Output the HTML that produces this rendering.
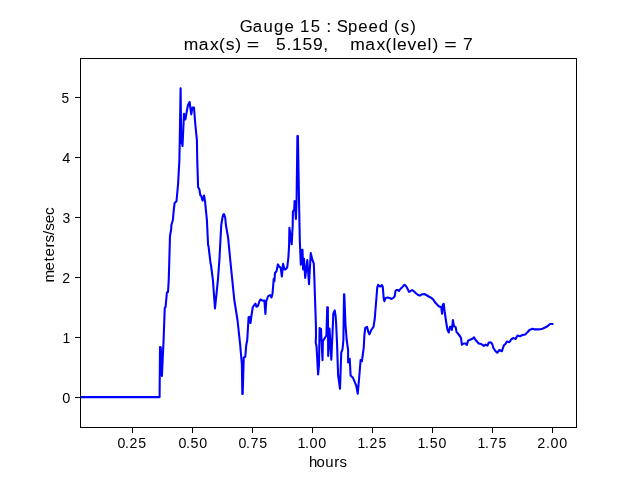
<!DOCTYPE html>
<html><head><meta charset="utf-8"><title>Gauge 15</title>
<style>
html,body{margin:0;padding:0;background:#fff;}
body{width:640px;height:480px;overflow:hidden;}
svg{display:block;font-family:"Liberation Sans",sans-serif;}
text{fill:#000;}
</style></head><body>
<svg width="640" height="480" viewBox="0 0 640 480">
<rect width="640" height="480" fill="#fff"/>
<polyline fill="none" stroke="#0000ff" stroke-width="2.08" stroke-linejoin="round" stroke-linecap="butt" points="80,397.1 159.6,397.1 160.0,347 160.8,347.5 161.9,376 163.6,340 164.75,308 165.6,307 166.9,292.5 168,292 168.75,280 170,236 171.2,229 171.4,225 172.9,220 173.75,210 174.6,203 176.5,201.25 178.1,183.75 179.4,160 179.75,140 180.6,88.2 181.2,143 181.7,141 182.5,146 184,113.75 185.4,119.4 186.9,110.6 188,105 189.6,102 191.25,114.4 192.5,107.5 194,107.5 195.25,123.75 196.9,140 197.25,160 198.1,187 199.4,189.4 200.25,195 201.25,196 202.5,200.6 204.1,195.6 205,201 206.9,220 208.1,245 208.5,246 210.6,263.75 211,265 212.9,280 215,308.5 217.9,280 219.4,260 221.25,225 222.5,217.5 223.3,214.4 224.2,214.4 225.2,217.5 225.9,225 228.1,237.5 230.25,260 234.3,300 237.5,320 240.2,345 241.9,365 242.3,393.9 242.7,393.9 243.75,357.5 245.25,357 246.25,345 247.25,340 248.6,317.3 249.5,316.9 250.5,323 251.4,316 252.8,307 255.4,303.5 256.5,306.8 258,305.8 259.5,301 260.6,299.4 262.5,300.6 264.4,300.6 265.4,314 266.25,301.25 268.1,296.25 270,295 271.5,297.5 272.5,293.75 273.75,278.75 274.4,281.25 275,273 276.5,271.25 277.9,264.4 279.4,266.9 280.6,267.5 281.9,276.5 283.1,263.9 284.5,269.5 285.6,269.4 287.2,267.5 288.4,257.5 289.1,245 289.4,227.8 291.7,244.3 292.7,225 292.9,211.5 294.2,209.5 294.6,201 295.9,219.0 296.6,200 297.4,136 297.9,136 299.3,215 299.8,240 300.8,264.8 301.6,250 302.5,249.8 303.1,269.5 304,258.75 305.2,278 307.3,260 309.0,284.2 310.75,253 312.4,260 313.8,263.4 314.4,280 315.9,325 316.0,336.5 315.7,342.5 316.5,346 318.1,374.4 319,365 319.6,328 321,329 322.5,360.3 322.9,341 324.5,338.5 326.4,335.5 327.25,307.3 327.85,307.3 328.2,356 329.5,328.5 331.3,359.8 333.0,322 333.3,313.6 334.7,310.4 335.6,316 336.1,323 337.0,342.5 338.1,375 340,388.75 341.25,352.5 342.5,349.4 343.4,340 344.0,294.3 344.3,294.3 345.5,325 346.7,340 348.1,350 348.1,362.5 349.75,358.75 350.6,375.6 353.1,378.1 356.25,385.6 357.75,393.75 359.4,375 360.6,360 361.9,361.25 363.75,347.5 364.4,335 365.25,328 367.1,326.9 368.1,331.25 369.4,334.4 371.25,330 373.5,326.9 374.75,318.75 376.25,300 377.25,287.5 378.1,284.75 379.4,286.25 380.6,286.5 381.9,285 382.75,286.9 383.75,298.75 384.4,301.25 385.6,298 387.75,297.5 389.75,298 391.6,299 393.1,298 394.6,296.5 395.6,290.6 396.9,290 398.1,290 399,290.9 400.6,288.75 402.5,286.9 404.4,284.75 405.6,285.6 406.9,287.5 409,291.9 410.6,291 412.1,290 413.75,291.25 416.25,293.5 418.1,295 419.75,295.6 421.9,294.4 424.4,294 426.25,295 428.75,296.5 431.25,297.9 433.1,299.4 435.6,303.1 438.75,306.25 441.25,307.25 442.1,313.75 442.75,304.75 443.75,303.75 444.75,312.5 446.25,322.5 447.5,330 448.75,332.5 450,326.9 451.2,326.9 451.9,330 452.9,320 454,326.25 455.6,326.9 456.5,331.9 458.1,333.75 460,336.25 461,338.1 461.9,344.75 463.75,343.5 465.6,343.5 466.9,345 468.1,340.6 470,339.75 472.5,338.75 474,337.25 475.6,340 478.75,343.5 481.25,344 483.75,345.9 485.6,344.6 487.5,345.6 488.75,342.5 490.6,342.25 492.1,343.75 493.5,348.1 495.6,351.25 497.25,352.75 499.4,350 501.9,351.25 503.75,345.6 505.6,343.75 506.9,341.5 509.4,342.25 511.25,339.4 513.1,338.1 515.6,339 517.5,335.6 520,336.25 522.5,335 525.25,334.4 527.5,332.25 529.4,330 532.5,328.75 535,329.4 538.75,329.4 542.5,328.75 545,327.5 547.5,326.25 550,324 553.4,324"/>
<g stroke="#000" stroke-width="1" shape-rendering="crispEdges">
<line x1="132.5" y1="428" x2="132.5" y2="432.5"/><line x1="192.5" y1="428" x2="192.5" y2="432.5"/><line x1="252.5" y1="428" x2="252.5" y2="432.5"/><line x1="312.5" y1="428" x2="312.5" y2="432.5"/><line x1="372.5" y1="428" x2="372.5" y2="432.5"/><line x1="432.5" y1="428" x2="432.5" y2="432.5"/><line x1="492.5" y1="428" x2="492.5" y2="432.5"/><line x1="552.5" y1="428" x2="552.5" y2="432.5"/><line x1="75.1" y1="397.5" x2="80" y2="397.5"/><line x1="75.1" y1="337.5" x2="80" y2="337.5"/><line x1="75.1" y1="277.5" x2="80" y2="277.5"/><line x1="75.1" y1="217.5" x2="80" y2="217.5"/><line x1="75.1" y1="157.5" x2="80" y2="157.5"/><line x1="75.1" y1="97.5" x2="80" y2="97.5"/>
</g>
<rect x="80.5" y="58.5" width="496" height="369" fill="none" stroke="#000" stroke-width="1" shape-rendering="crispEdges"/>
<g style="filter:grayscale(1)">
<text transform="translate(240.00,32.10) scale(1.0037,1.0200)" font-size="16.667" stroke="#000" stroke-width="0.06"><tspan x="-0.14 12.63 23.46 33.85 44.30">Gauge</tspan> <tspan x="59.90 70.40">15</tspan> <tspan x="85.88" textLength="5.09" lengthAdjust="spacingAndGlyphs">:</tspan> <tspan x="96.32 107.70 117.91 128.12 138.34">Speed</tspan> <tspan x="153.54 160.21 169.53">(s)</tspan></text>
<text transform="translate(183.00,50.30) scale(1.0496,1.0200)" font-size="16.667" stroke="#000" stroke-width="0.06"><tspan x="0.83 15.08 25.62 34.38 40.71 49.71">max(s)</tspan> <tspan x="60.82" textLength="11.88" lengthAdjust="spacingAndGlyphs">=</tspan> <tspan x="88.67 98.56 103.75 113.80 123.82 133.61">5.159,</tspan> <tspan x="159.47 173.72 184.26 193.01 199.66 203.90 213.95 223.07 233.00 237.76">max(level)</tspan> <tspan x="248.87" textLength="11.88" lengthAdjust="spacingAndGlyphs">=</tspan> <tspan x="266.78">7</tspan></text>
<text transform="translate(117.00,448.00) scale(1.0150,1.0150)" font-size="13.889"><tspan x="0.42 7.86 12.21 20.97">0.25</tspan></text>
<text transform="translate(178.00,448.00) scale(1.0266,1.0150)" font-size="13.889"><tspan x="0.37 7.75 12.16 20.70">0.50</tspan></text>
<text transform="translate(238.00,448.00) scale(1.0217,1.0150)" font-size="13.889"><tspan x="0.39 7.80 12.28 20.80">0.75</tspan></text>
<text transform="translate(298.00,448.00) scale(1.0351,1.0150)" font-size="13.889"><tspan x="-0.58 6.83 11.20 19.66">1.00</tspan></text>
<text transform="translate(358.00,448.00) scale(1.0044,1.0150)" font-size="13.889"><tspan x="-0.47 7.09 11.51 20.36">1.25</tspan></text>
<text transform="translate(418.00,448.00) scale(1.0166,1.0150)" font-size="13.889"><tspan x="-0.52 6.99 11.46 20.09">1.50</tspan></text>
<text transform="translate(478.00,448.00) scale(1.0113,1.0150)" font-size="13.889"><tspan x="-0.50 7.03 11.58 20.19">1.75</tspan></text>
<text transform="translate(538.00,448.00) scale(1.0333,1.0150)" font-size="13.889"><tspan x="-0.78 7.69 12.08 20.54">2.00</tspan></text>
<text transform="translate(62.00,403.00) scale(1.0449,1.0150)" font-size="13.889"><tspan x="0.29">0</tspan></text>
<text transform="translate(63.00,343.00) scale(1.0124,1.0150)" font-size="13.889"><tspan x="-0.50">1</tspan></text>
<text transform="translate(63.00,283.00) scale(1.0075,1.0150)" font-size="13.889"><tspan x="-0.70">2</tspan></text>
<text transform="translate(63.00,223.00) scale(1.0061,1.0150)" font-size="13.889"><tspan x="-0.47">3</tspan></text>
<text transform="translate(62.00,163.00) scale(1.0471,1.0150)" font-size="13.889"><tspan x="0.34">4</tspan></text>
<text transform="translate(62.00,103.00) scale(0.9871,1.0150)" font-size="13.889"><tspan x="-0.49">5</tspan></text>
<text transform="translate(309.75,466.70) scale(1.0768,1.0300)" font-size="13.889"><tspan x="-0.70 6.32 14.32 22.88 27.56">hours</tspan></text>
<text transform="translate(54.00,282.00) rotate(-90) scale(1.0945,1.0800)" font-size="13.889"><tspan x="-0.51 10.57 18.80 23.36 31.60 36.19 43.03 46.93 53.63 61.17">meters/sec</tspan></text>
</g>
</svg>
</body></html>
